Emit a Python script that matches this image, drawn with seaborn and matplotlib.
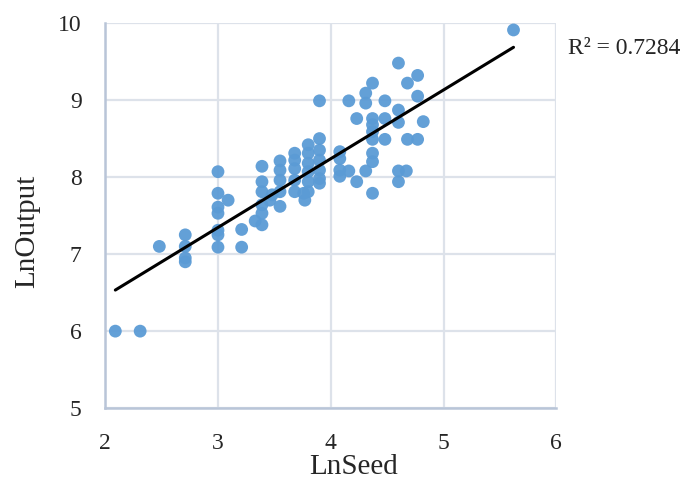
import numpy as np
import pandas as pd
import seaborn as sns
import matplotlib.pyplot as plt

# values
ln_seed = [2.09, 2.31, 2.48,
           2.71, 2.71, 2.71, 2.71,
           3.00, 3.00, 3.00, 3.00, 3.00, 3.00, 3.00,
           3.09, 3.21, 3.21, 3.33,
           3.39, 3.39, 3.39, 3.39, 3.39, 3.39,
           3.46, 3.48,
           3.55, 3.55, 3.55, 3.55, 3.55,
           3.68, 3.68, 3.68, 3.68, 3.68,
           3.76, 3.77,
           3.80, 3.80, 3.80, 3.80, 3.80, 3.80,
           3.90, 3.90, 3.90, 3.90, 3.90, 3.90, 3.90,
           4.08, 4.08, 4.08, 4.08,
           4.16, 4.16, 4.23, 4.23,
           4.31, 4.31, 4.31,
           4.37, 4.37, 4.37, 4.37, 4.37, 4.37, 4.37, 4.37,
           4.48, 4.48, 4.48,
           4.60, 4.60, 4.60, 4.60, 4.60,
           4.67, 4.68, 4.68,
           4.77, 4.77, 4.77, 4.82,
           5.62]
ln_output = [6.00, 6.00, 7.10,
             7.25, 7.10, 6.95, 6.90,
             8.07, 7.79, 7.61, 7.53, 7.31, 7.25, 7.09,
             7.70, 7.32, 7.09, 7.43,
             8.14, 7.94, 7.81, 7.64, 7.53, 7.38,
             7.70, 7.77,
             8.21, 8.09, 7.96, 7.81, 7.62,
             8.31, 8.22, 8.11, 7.96, 7.81,
             7.79, 7.70,
             8.42, 8.31, 8.18, 8.07, 7.94, 7.81,
             8.99, 8.50, 8.35, 8.22, 8.09, 7.98, 7.92,
             8.33, 8.24, 8.09, 8.01,
             8.99, 8.08, 8.76, 7.94,
             9.09, 8.96, 8.08,
             9.22, 8.76, 8.68, 8.59, 8.49, 8.31, 8.20, 7.79,
             8.99, 8.76, 8.49,
             9.48, 8.87, 8.71, 8.08, 7.94,
             8.08, 9.22, 8.49,
             9.32, 9.05, 8.49, 8.72,
             9.91]
r2_text = "R\u00b2 = 0.7284"

df = pd.DataFrame({'LnSeed': ln_seed, 'LnOutput': ln_output})

sns.set_style('white')
plt.rcParams['font.family'] = ['Liberation Serif', 'DejaVu Serif']

fig = plt.figure(figsize=(6.92, 4.9), dpi=100)
ax = fig.add_axes([0.152, 0.167, 0.652, 0.786])

sns.regplot(data=df, x='LnSeed', y='LnOutput', ax=ax, ci=None, truncate=True,
            scatter_kws=dict(s=85, color='#5B9BD5', edgecolor='none', alpha=0.95, zorder=3),
            line_kws=dict(color='black', lw=2.2, zorder=4))

ax.set_xlim(2, 6)
ax.set_ylim(5, 10)
ax.set_xticks([2, 3, 4, 5, 6])
ax.set_yticks([5, 6, 7, 8, 9, 10])
ax.grid(True, color='#DDE2EA', lw=1.6, zorder=0)
ax.set_axisbelow(True)
for side in ['top', 'right']:
    ax.spines[side].set_visible(False)
for side in ['left', 'bottom']:
    ax.spines[side].set_color('#B9C5D8')
    ax.spines[side].set_linewidth(1.8)
ax.tick_params(axis='both', length=0, labelsize=17)
ax.tick_params(axis='x', pad=18)
ax.tick_params(axis='y', pad=17)

ax.set_xlabel('LnSeed', fontsize=21)
ax.set_ylabel('LnOutput', fontsize=21)
ax.xaxis.set_label_coords(0.55, -0.118)
ax.yaxis.set_label_coords(-0.145, 0.46)

fig.text(568 / 692, 1 - 48 / 490, r2_text, fontsize=17, va='center', ha='left')

fig.savefig('out.png', dpi=100)
